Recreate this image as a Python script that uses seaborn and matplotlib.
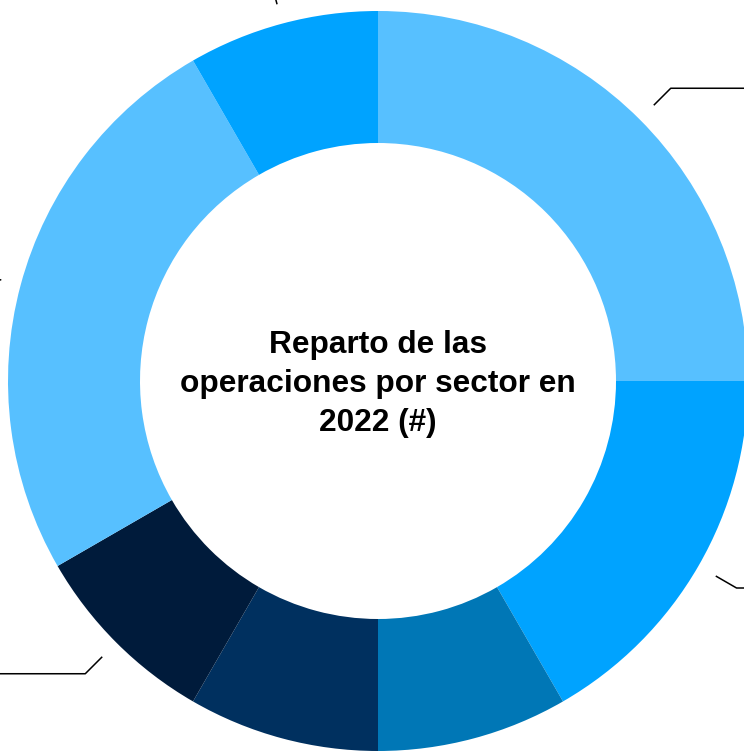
import numpy as np
import matplotlib
matplotlib.use("Agg")
import matplotlib.pyplot as plt
import seaborn as sb

# datos: reparto de operaciones por sector
sectores = ["Sector 1", "Sector 2", "Sector 3", "Sector 4", "Sector 5", "Sector 6", "Sector 7"]
operaciones = [3, 2, 1, 1, 1, 3, 1]
colores = ["#57C0FF", "#00A3FF", "#0077B6", "#00305F", "#001B3B", "#57C0FF", "#00A3FF"]
titulo = "Reparto de las\noperaciones por sector en\n2022 (#)"

sb.set_theme(style="white")
plt.rcParams['font.family'] = ['Liberation Sans', 'DejaVu Sans']

W, H = 744, 751
fig = plt.figure(figsize=(W / 100, H / 100), dpi=100)
ax = fig.add_axes([0, 0, 1, 1])

cx, cy = 378, H - 381
R = 370
wedges, _ = ax.pie(operaciones, colors=colores, startangle=90, counterclock=False,
                   radius=R, center=(cx, cy),
                   wedgeprops=dict(width=132, linewidth=0))

# lineas guia de las etiquetas (las etiquetas quedan fuera del recorte)
for w in wedges:
    ang = np.deg2rad((w.theta1 + w.theta2) / 2)
    x0, y0 = cx + 390 * np.cos(ang), cy + 390 * np.sin(ang)
    x1, y1 = cx + 414 * np.cos(ang), cy + 414 * np.sin(ang)
    sign = 1 if np.cos(ang) >= 0 else -1
    ax.plot([x0, x1, x1 + sign * 120], [y0, y1, y1], color="black", lw=1.1,
            solid_capstyle="butt", clip_on=False)

ax.text(cx, cy - 3, titulo, ha="center", va="center", fontsize=22.8,
        fontweight="bold", color="black", linespacing=1.37)

ax.set_xlim(0, W)
ax.set_ylim(0, H)
ax.set_aspect("equal")
ax.axis("off")

fig.savefig("out.png", dpi=100)
